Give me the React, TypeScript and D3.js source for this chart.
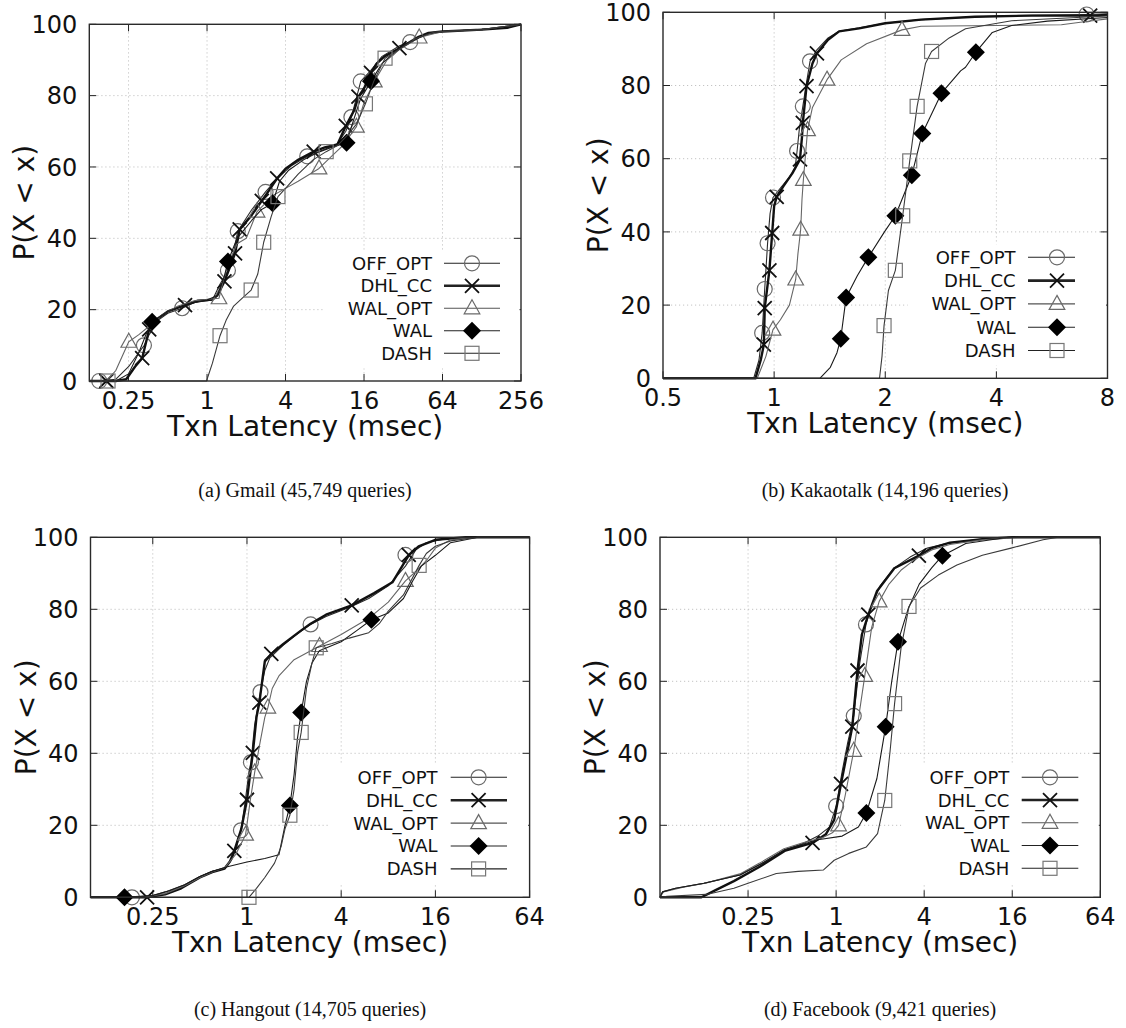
import React from 'react';
import * as d3 from 'd3';

type Pt = [number, number];

const SERIES = ['OFF_OPT', 'DHL_CC', 'WAL_OPT', 'WAL', 'DASH'];
const Y_TICKS = [0, 20, 40, 60, 80, 100];

// (a) Gmail
const gmailCaption = '(a) Gmail (45,749 queries)';
const gmailTicks = [0.25, 1, 4, 16, 64, 256];
const gmailOffOpt: Pt[] = [[0.125, 0], [0.149, 0], [0.2, 0.5], [0.25, 4], [0.3, 8], [0.33, 10], [0.36, 13], [0.42, 17], [0.5, 19], [0.644, 20.4], [0.8, 22], [1.1, 22.7], [1.25, 27], [1.446, 31], [1.6, 36], [1.72, 42], [2.2, 48], [2.81, 53], [3.5, 57], [4.5, 60.5], [5.87, 63], [8, 65], [10, 66.5], [11.6, 70], [12.8, 74], [15.1, 84], [18, 87], [22, 91], [30, 94], [36, 95], [45, 97], [64, 98], [128, 98.6], [200, 99], [256, 100]];
const gmailDhlCc: Pt[] = [[0.125, 0], [0.2, 0], [0.24, 0.5], [0.28, 4], [0.318, 6.4], [0.36, 14.5], [0.4, 17], [0.5, 19.5], [0.678, 21.3], [0.85, 22.5], [1.1, 22.8], [1.2, 24], [1.36, 27.9], [1.5, 32], [1.64, 35.8], [1.78, 42.5], [2.2, 46.5], [2.63, 50.5], [3.0, 53.5], [3.45, 56.8], [4.0, 59.5], [5.0, 62], [6.58, 64.3], [8, 65.5], [10, 66.3], [11.6, 71.5], [13.5, 76], [14.5, 79.7], [16, 82], [18.1, 86.4], [20, 89], [23, 91], [29.9, 93.3], [36, 95], [42, 96.5], [50, 97.6], [64, 98], [128, 98.5], [200, 99], [256, 100]];
const gmailWalOpt: Pt[] = [[0.125, 0], [0.17, 0], [0.2, 3], [0.251, 11], [0.3, 13], [0.35, 15], [0.45, 18.5], [0.6, 21], [0.8, 22.5], [1.235, 23.2], [1.35, 29], [1.5, 34], [1.7, 38.5], [2.0, 40], [2.42, 47.5], [3.2, 52], [4, 54], [5, 56], [7.23, 59.6], [9, 63], [11, 66], [14.0, 71.3], [16, 78], [19.2, 84], [24, 90], [30, 93], [42.4, 96.3], [64, 98], [128, 98.5], [256, 100]];
const gmailWal: Pt[] = [[0.125, 0], [0.2, 0], [0.25, 2], [0.3, 8], [0.34, 13], [0.379, 16.6], [0.5, 19.5], [0.7, 21.5], [1.0, 22.7], [1.2, 24], [1.35, 29], [1.446, 33.5], [1.7, 40], [2.2, 45], [2.6, 48], [3.18, 49.8], [3.6, 56], [4.2, 59], [5.5, 62], [7, 64], [9, 65.5], [11.75, 66.8], [13, 72], [15, 79], [18.1, 84], [22, 89], [28, 92.5], [36, 95], [50, 97.5], [64, 98], [128, 98.5], [256, 100]];
const gmailDash: Pt[] = [[0.125, 0], [0.99, 0], [1.1, 5], [1.258, 12.7], [1.4, 17], [1.6, 21], [1.9, 23.5], [2.18, 25.5], [2.45, 30], [2.72, 38.9], [3.1, 46], [3.5, 51.7], [4, 54], [5, 58], [6.5, 62], [8.2, 64.3], [10, 66], [12, 69], [14, 72], [16.4, 77.7], [19, 84], [23.2, 90.5], [30, 93], [40, 96], [55, 97.8], [64, 98], [128, 98.5], [256, 100]];
const gmailOffOptMarks: Pt[] = [[0.149, 0], [0.328, 10], [0.644, 20.4], [1.446, 31], [1.72, 42], [2.81, 53], [5.87, 63], [12.8, 74], [15.1, 84], [36.1, 95]];
const gmailDhlCcMarks: Pt[] = [[0.169, 0], [0.318, 6.4], [0.36, 14.5], [0.678, 21.3], [1.36, 27.9], [1.64, 35.8], [1.78, 42.5], [2.63, 50.5], [3.45, 56.8], [6.58, 64.3], [11.6, 71.5], [14.5, 79.7], [18.1, 86.4], [29.9, 93.3]];
const gmailWalOptMarks: Pt[] = [[0.251, 11], [1.235, 23.2], [2.42, 47.5], [7.23, 59.6], [14.0, 71.3], [19.2, 84], [42.4, 96.3]];
const gmailWalMarks: Pt[] = [[0.379, 16.6], [1.446, 33.5], [3.18, 49.8], [11.75, 66.8], [18.1, 84]];
const gmailDashMarks: Pt[] = [[0.174, 0], [1.258, 12.7], [2.18, 25.5], [2.72, 38.9], [3.5, 51.7], [8.2, 64.3], [16.4, 77.7], [23.2, 90.5]];

// (b) Kakaotalk
const kakaoCaption = '(b) Kakaotalk (14,196 queries)';
const kakaoTicks = [0.5, 1, 2, 4, 8];
const kakaoOffOpt: Pt[] = [[0.5, 0], [0.88, 0], [0.91, 5], [0.928, 12.4], [0.943, 24.4], [0.96, 36.9], [0.975, 45], [0.993, 49.4], [1.04, 52], [1.1, 55], [1.14, 57.5], [1.154, 62.1], [1.17, 68], [1.196, 74.3], [1.22, 80], [1.251, 86.6], [1.3, 89.5], [1.4, 93], [1.5, 94.8], [1.7, 95.8], [2.0, 97], [2.5, 98], [3.5, 98.8], [5, 99.2], [7.02, 99.4], [8, 99.6]];
const kakaoDhlCc: Pt[] = [[0.5, 0], [0.89, 0], [0.92, 5], [0.938, 9.2], [0.943, 19.2], [0.971, 29.5], [0.988, 39.7], [1.0, 47], [1.016, 49.6], [1.06, 52.5], [1.12, 56], [1.175, 59.8], [1.19, 66], [1.196, 69.8], [1.224, 79.8], [1.27, 86], [1.306, 88.8], [1.4, 92.5], [1.5, 94.8], [1.7, 95.6], [2.0, 97], [2.5, 98], [3.5, 98.8], [5, 99.1], [7.18, 99.1], [8, 99.3]];
const kakaoWalOpt: Pt[] = [[0.5, 0], [0.9, 0], [0.95, 6], [0.993, 13.3], [1.04, 16], [1.1, 20], [1.144, 27], [1.16, 34], [1.18, 40.6], [1.19, 49], [1.2, 54.2], [1.232, 67.8], [1.27, 74], [1.391, 81.6], [1.52, 87], [1.78, 91.4], [2.22, 95.2], [2.5, 96.2], [4, 96.4], [6, 96.6], [7, 97.5], [8, 98.2]];
const kakaoWal: Pt[] = [[0.5, 0], [1.33, 0], [1.42, 3], [1.48, 7], [1.515, 10.8], [1.567, 22.1], [1.68, 28], [1.8, 33.1], [1.99, 40], [2.13, 44.4], [2.36, 55.5], [2.52, 66.9], [2.84, 77.9], [3.2, 84], [3.3, 85], [3.52, 89.1], [3.9, 94.5], [4.4, 96.4], [5.5, 97.6], [8, 98.6]];
const kakaoDash: Pt[] = [[0.5, 0], [1.93, 0], [1.96, 6], [1.985, 14.4], [2.04, 24], [2.13, 29.5], [2.23, 44.4], [2.33, 59.4], [2.44, 74.3], [2.57, 86], [2.67, 89.3], [2.98, 93], [3.3, 95.5], [4.4, 97.7], [8, 99]];
const kakaoOffOptMarks: Pt[] = [[0.928, 12.4], [0.943, 24.4], [0.96, 36.9], [0.993, 49.4], [1.154, 62.1], [1.196, 74.3], [1.251, 86.6], [7.02, 99.4]];
const kakaoDhlCcMarks: Pt[] = [[0.938, 9.2], [0.943, 19.2], [0.971, 29.5], [0.988, 39.7], [1.016, 49.6], [1.175, 59.8], [1.196, 69.8], [1.224, 79.8], [1.306, 88.8], [7.18, 99.1]];
const kakaoWalOptMarks: Pt[] = [[0.993, 13.3], [1.144, 27], [1.18, 40.6], [1.2, 54.2], [1.232, 67.8], [1.391, 81.6], [2.22, 95.2]];
const kakaoWalMarks: Pt[] = [[1.515, 10.8], [1.567, 22.1], [1.8, 33.1], [2.13, 44.4], [2.36, 55.5], [2.52, 66.9], [2.84, 77.9], [3.52, 89.1]];
const kakaoDashMarks: Pt[] = [[1.985, 14.4], [2.13, 29.5], [2.23, 44.4], [2.33, 59.4], [2.44, 74.3], [2.67, 89.3]];

// (c) Hangout
const hangoutCaption = '(c) Hangout (14,705 queries)';
const hangoutTicks = [0.25, 1, 4, 16, 64];
const hangoutOffOpt: Pt[] = [[0.1, 0], [0.184, 0], [0.25, 0.5], [0.3, 1.5], [0.4, 3.5], [0.5, 5.8], [0.6, 7.2], [0.72, 8], [0.8, 10.5], [0.86, 14], [0.915, 18.6], [0.97, 26], [1.03, 35], [1.06, 37.5], [1.12, 48], [1.22, 57], [1.3, 63], [1.4, 66.5], [1.7, 70], [2.0, 72.5], [2.55, 75.8], [3.2, 78], [4.5, 80.5], [6, 83], [8, 86.5], [10.3, 92], [12, 96.5], [14, 98.5], [18, 99.5], [25, 100], [64, 100]];
const hangoutDhlCc: Pt[] = [[0.1, 0], [0.23, 0], [0.3, 0.8], [0.38, 2.5], [0.5, 5.5], [0.6, 7], [0.72, 8], [0.78, 10], [0.83, 12.9], [0.92, 19], [1.0, 27.1], [1.06, 36], [1.09, 40.1], [1.15, 50], [1.2, 54.1], [1.25, 60], [1.3, 65.5], [1.43, 67.6], [1.7, 70.3], [2.2, 74], [2.55, 76], [3.2, 78.5], [4.67, 81.1], [6.5, 84.5], [8.5, 87.5], [10.8, 95], [12.5, 97.5], [16, 99.3], [25, 100], [64, 100]];
const hangoutWalOpt: Pt[] = [[0.1, 0], [0.22, 0], [0.3, 1], [0.4, 3.2], [0.5, 5.5], [0.6, 7], [0.72, 8.2], [0.85, 12], [0.98, 17.4], [1.05, 27], [1.12, 34.7], [1.2, 42], [1.3, 50], [1.36, 52.7], [1.45, 58], [1.6, 61.5], [2.0, 66], [2.91, 69.8], [4, 73], [6, 77.5], [8, 82], [10.3, 87.9], [12, 90.5], [14, 93.5], [16, 97], [20, 99.3], [30, 100], [64, 100]];
const hangoutWal: Pt[] = [[0.1, 0], [0.16, 0], [0.25, 0.5], [0.32, 1.8], [0.4, 3.5], [0.5, 5.8], [0.6, 7.2], [0.75, 8.5], [1.0, 9.8], [1.3, 10.8], [1.6, 11.8], [1.75, 20], [1.88, 25.5], [2.0, 34], [2.1, 44], [2.22, 51.3], [2.4, 60], [2.6, 65], [2.9, 68.5], [4, 71], [5, 74], [6.24, 77.1], [8, 79], [10, 83], [11.5, 88], [13, 92], [16, 95], [20, 98.5], [30, 100], [64, 100]];
const hangoutDash: Pt[] = [[0.1, 0], [1.03, 0], [1.15, 2.5], [1.3, 5.5], [1.5, 9.5], [1.65, 14], [1.75, 19], [1.88, 22.8], [2.0, 30], [2.1, 40], [2.22, 45.8], [2.4, 58], [2.6, 65], [2.77, 69.3], [3.5, 70.5], [4.5, 72], [6, 73.5], [7, 76], [8, 79.5], [10, 84], [12.6, 92.2], [14, 95.5], [16, 97.5], [20, 99], [30, 100], [64, 100]];
const hangoutOffOptMarks: Pt[] = [[0.184, 0], [0.915, 18.6], [1.06, 37.5], [1.22, 57], [2.55, 75.8], [10.3, 95.1]];
const hangoutDhlCcMarks: Pt[] = [[0.23, 0], [0.83, 12.9], [1.0, 27.1], [1.09, 40.1], [1.2, 54.1], [1.43, 67.6], [4.67, 81.1], [10.8, 95.1]];
const hangoutWalOptMarks: Pt[] = [[0.98, 17.4], [1.12, 34.7], [1.36, 52.7], [2.91, 69.8], [10.3, 87.9]];
const hangoutWalMarks: Pt[] = [[0.165, 0], [1.88, 25.5], [2.22, 51.3], [6.24, 77.1]];
const hangoutDashMarks: Pt[] = [[1.03, 0], [1.88, 22.8], [2.22, 45.8], [2.77, 69.3], [12.6, 92.2]];

// (d) Facebook
const fbCaption = '(d) Facebook (9,421 queries)';
const fbTicks = [0.25, 1, 4, 16, 64];
const fbOffOpt: Pt[] = [[0.0625, 0], [0.065, 1.5], [0.08, 2.5], [0.125, 3.9], [0.22, 6.2], [0.31, 9.4], [0.44, 13.1], [0.6, 15], [0.75, 17], [0.9, 19.5], [1.0, 25.3], [1.1, 35], [1.2, 43], [1.32, 50.4], [1.45, 65], [1.6, 75.8], [1.75, 81], [2.0, 86.5], [2.5, 91.5], [3.2, 94.5], [4.2, 97], [6, 98.5], [10, 99.5], [16, 100], [64, 100]];
const fbDhlCc: Pt[] = [[0.0625, 0], [0.12, 0], [0.15, 2], [0.2, 4.5], [0.3, 8.5], [0.45, 13], [0.69, 15.1], [0.85, 17.5], [0.97, 21.5], [1.08, 31.5], [1.29, 47.4], [1.4, 63], [1.5, 73], [1.66, 78.5], [1.9, 85], [2.5, 91.4], [3.68, 94.9], [4.5, 97], [6, 98.5], [10, 99.5], [16, 100], [64, 100]];
const fbWalOpt: Pt[] = [[0.0625, 0], [0.066, 1.5], [0.09, 2.8], [0.13, 4], [0.22, 6.5], [0.3, 9.5], [0.44, 13.5], [0.6, 15.2], [0.8, 16.5], [0.95, 18], [1.04, 20], [1.15, 28], [1.32, 40.7], [1.45, 52], [1.57, 61.5], [1.75, 75], [1.97, 82.2], [2.3, 87], [2.8, 91], [3.5, 94], [4.5, 96.5], [6, 98], [10, 99.3], [18, 100], [64, 100]];
const fbWal: Pt[] = [[0.0625, 0], [0.065, 1.5], [0.08, 2.5], [0.125, 3.9], [0.22, 6.2], [0.31, 9.4], [0.44, 13.1], [0.6, 14.8], [0.75, 16], [1.1, 17], [1.42, 19.5], [1.61, 23.4], [1.9, 33], [2.18, 47.4], [2.4, 60], [2.65, 71], [3.1, 80], [3.7, 87], [4.5, 91.5], [5.33, 94.9], [7.7, 98.3], [15, 100], [64, 100]];
const fbDash: Pt[] = [[0.0625, 0], [0.07, 0.3], [0.13, 0.8], [0.2, 2.5], [0.25, 3.9], [0.39, 6.6], [0.55, 7.2], [0.82, 7.6], [0.97, 10.3], [1.22, 12.2], [1.61, 14], [1.92, 17.7], [2.15, 26.9], [2.34, 40.7], [2.51, 53.8], [2.78, 69.3], [3.15, 80.8], [3.78, 85.9], [5, 89.5], [6.7, 92.3], [10, 95], [15.7, 97], [26, 99.3], [33, 100], [64, 100]];
const fbOffOptMarks: Pt[] = [[1.0, 25.3], [1.32, 50.4], [1.6, 75.8]];
const fbDhlCcMarks: Pt[] = [[0.69, 15.1], [1.08, 31.5], [1.29, 47.4], [1.4, 63], [1.66, 78.5], [3.68, 94.9]];
const fbWalOptMarks: Pt[] = [[1.04, 20], [1.32, 40.7], [1.57, 61.5], [1.97, 82.2]];
const fbWalMarks: Pt[] = [[1.61, 23.4], [2.18, 47.4], [2.65, 71], [5.33, 94.9]];
const fbDashMarks: Pt[] = [[2.15, 26.9], [2.51, 53.8], [3.15, 80.8]];

// look of each series, gnuplot style
const STYLE: Record<string, { stroke: string; width: number; marker: string; mcolor: string }> = {
  OFF_OPT: { stroke: '#2a2a2a', width: 1.1, marker: 'circle', mcolor: '#6a6a6a' },
  DHL_CC: { stroke: '#111', width: 2.4, marker: 'x', mcolor: '#111' },
  WAL_OPT: { stroke: '#666', width: 1.1, marker: 'triangle', mcolor: '#6a6a6a' },
  WAL: { stroke: '#1a1a1a', width: 1.1, marker: 'diamond', mcolor: '#000' },
  DASH: { stroke: '#3a3a3a', width: 1.1, marker: 'square', mcolor: '#777' },
};

const panels = [
  {
    caption: gmailCaption, ticks: gmailTicks, base: 4, domain: [0.125, 256],
    left: 89.3, right: 521, top: 24.3, bottom: 381,
    lines: [gmailOffOpt, gmailDhlCc, gmailWalOpt, gmailWal, gmailDash],
    marks: [gmailOffOptMarks, gmailDhlCcMarks, gmailWalOptMarks, gmailWalMarks, gmailDashMarks],
    legend: { labelRight: 432, x1: 444, x2: 500, mx: 472, y0: 263.3, step: 22.5 },
    capX: 305, capY: 497,
  },
  {
    caption: kakaoCaption, ticks: kakaoTicks, base: 2, domain: [0.5, 8],
    left: 663, right: 1107.5, top: 12.3, bottom: 378.3,
    lines: [kakaoOffOpt, kakaoDhlCc, kakaoWalOpt, kakaoWal, kakaoDash],
    marks: [kakaoOffOptMarks, kakaoDhlCcMarks, kakaoWalOptMarks, kakaoWalMarks, kakaoDashMarks],
    legend: { labelRight: 1015.6, x1: 1028, x2: 1075, mx: 1057, y0: 257.3, step: 23.3 },
    capX: 885, capY: 497,
  },
  {
    caption: hangoutCaption, ticks: hangoutTicks, base: 4, domain: [0.1, 64],
    left: 90.5, right: 529.6, top: 537.3, bottom: 897.3,
    lines: [hangoutOffOpt, hangoutDhlCc, hangoutWalOpt, hangoutWal, hangoutDash],
    marks: [hangoutOffOptMarks, hangoutDhlCcMarks, hangoutWalOptMarks, hangoutWalMarks, hangoutDashMarks],
    legend: { labelRight: 437.5, x1: 450.7, x2: 507, mx: 478.6, y0: 777.3, step: 22.9 },
    capX: 310, capY: 1016,
  },
  {
    caption: fbCaption, ticks: fbTicks, base: 4, domain: [0.0625, 64],
    left: 660, right: 1100.3, top: 537.3, bottom: 897.3,
    lines: [fbOffOpt, fbDhlCc, fbWalOpt, fbWal, fbDash],
    marks: [fbOffOptMarks, fbDhlCcMarks, fbWalOptMarks, fbWalMarks, fbDashMarks],
    legend: { labelRight: 1009.3, x1: 1021.7, x2: 1078.3, mx: 1050, y0: 777.3, step: 22.75 },
    capX: 880, capY: 1016,
  },
];

const FONT = 'DejaVu Sans, Verdana, sans-serif';

function Marker({ kind, x, y, color }: { kind: string; x: number; y: number; color: string }) {
  if (kind === 'circle') {
    return <circle cx={x} cy={y} r={7.5} fill="none" stroke={color} strokeWidth={1.2} />;
  }
  if (kind === 'x') {
    const s = 7;
    return (
      <path d={`M${x - s},${y - s}L${x + s},${y + s}M${x - s},${y + s}L${x + s},${y - s}`}
        stroke={color} strokeWidth={1.8} fill="none" />
    );
  }
  if (kind === 'triangle') {
    return (
      <path d={`M${x},${y - 8.5}L${x + 7.8},${y + 5.5}L${x - 7.8},${y + 5.5}Z`}
        fill="none" stroke={color} strokeWidth={1.2} />
    );
  }
  if (kind === 'diamond') {
    const s = 9;
    return <path d={`M${x},${y - s}L${x + s},${y}L${x},${y + s}L${x - s},${y}Z`} fill={color} />;
  }
  return <rect x={x - 7} y={y - 7} width={14} height={14} fill="none" stroke={color} strokeWidth={1.2} />;
}

function Panel({ p, idx }: { p: (typeof panels)[number]; idx: number }) {
  const x = d3.scaleLog().base(p.base).domain(p.domain).range([p.left, p.right]);
  const y = d3.scaleLinear().domain([0, 100]).range([p.bottom, p.top]);
  const line = d3.line<Pt>().x(d => x(d[0])).y(d => y(d[1]));
  const clipId = `clip-${idx}`;
  const tickLen = 7;
  const lg = p.legend;
  const cy = (p.top + p.bottom) / 2;
  const cx = (p.left + p.right) / 2;

  return (
    <g>
      <defs>
        <clipPath id={clipId}>
          <rect x={p.left - 12} y={p.top - 12} width={p.right - p.left + 24} height={p.bottom - p.top + 24} />
        </clipPath>
      </defs>

      {/* grid */}
      {p.ticks.filter(t => x(t) > p.left + 1 && x(t) < p.right - 1).map(t => (
        <line key={`gx${t}`} x1={x(t)} x2={x(t)} y1={p.top} y2={p.bottom}
          stroke="#c4c4c4" strokeWidth={1} strokeDasharray="1.2,2.8" />
      ))}
      {Y_TICKS.filter(t => t > 0 && t < 100).map(t => (
        <line key={`gy${t}`} x1={p.left} x2={p.right} y1={y(t)} y2={y(t)}
          stroke="#c4c4c4" strokeWidth={1} strokeDasharray="1.2,2.8" />
      ))}

      {/* ticks on all four sides */}
      {p.ticks.map(t => (
        <g key={`tx${t}`} stroke="#222" strokeWidth={1}>
          <line x1={x(t)} x2={x(t)} y1={p.bottom} y2={p.bottom - tickLen} />
          <line x1={x(t)} x2={x(t)} y1={p.top} y2={p.top + tickLen} />
        </g>
      ))}
      {Y_TICKS.map(t => (
        <g key={`ty${t}`} stroke="#222" strokeWidth={1}>
          <line x1={p.left} x2={p.left + tickLen} y1={y(t)} y2={y(t)} />
          <line x1={p.right} x2={p.right - tickLen} y1={y(t)} y2={y(t)} />
        </g>
      ))}

      {/* series */}
      <g clipPath={`url(#${clipId})`}>
        {SERIES.map((s, i) => {
          const st = STYLE[s];
          return (
            <g key={s}>
              <path d={line(p.lines[i]) || ''} fill="none" stroke={st.stroke} strokeWidth={st.width}
                strokeLinejoin="round" />
              {p.marks[i].map((m, j) => (
                <Marker key={j} kind={st.marker} x={x(m[0])} y={y(m[1])} color={st.mcolor} />
              ))}
            </g>
          );
        })}
      </g>

      {/* legend, opaque key box */}
      <rect x={lg.labelRight - 108} y={lg.y0 - 13} width={p.right - 1.5 - (lg.labelRight - 108)}
        height={lg.step * 4 + 28} fill="white" />
      {SERIES.map((s, i) => {
        const st = STYLE[s];
        const ly = lg.y0 + i * lg.step;
        return (
          <g key={`lg${s}`}>
            <text x={lg.labelRight} y={ly} dy="0.36em" textAnchor="end" fontFamily={FONT} fontSize={18}
              fill="#111">{s}</text>
            <line x1={lg.x1} x2={lg.x2} y1={ly} y2={ly} stroke={s === 'WAL_OPT' ? '#555' : '#222'}
              strokeWidth={s === 'DHL_CC' ? 2.6 : 1.1} />
            <Marker kind={st.marker} x={lg.mx} y={ly} color={st.mcolor} />
          </g>
        );
      })}

      {/* frame */}
      <rect x={p.left} y={p.top} width={p.right - p.left} height={p.bottom - p.top}
        fill="none" stroke="#2a2a2a" strokeWidth={1.4} />

      {/* tick labels */}
      {p.ticks.map(t => (
        <text key={`lx${t}`} x={x(t)} y={p.bottom + 28} textAnchor="middle" fontFamily={FONT}
          fontSize={24} fill="#111">{String(t)}</text>
      ))}
      {Y_TICKS.map(t => (
        <text key={`ly${t}`} x={p.left - 12} y={y(t)} dy="0.36em" textAnchor="end" fontFamily={FONT}
          fontSize={24} fill="#111">{t}</text>
      ))}

      {/* axis titles */}
      <text x={cx} y={p.bottom + 55} textAnchor="middle" fontFamily={FONT} fontSize={28} fill="#111">
        Txn Latency (msec)
      </text>
      <text transform={`translate(${p.left - 55},${cy}) rotate(-90)`} textAnchor="middle" fontFamily={FONT}
        fontSize={28} fill="#111">P(X &lt; x)</text>

      {/* caption */}
      <text x={p.capX} y={p.capY} textAnchor="middle" fontFamily="Liberation Serif, Times New Roman, serif"
        fontSize={20} fill="#111">{p.caption}</text>
    </g>
  );
}

export default function App() {
  return (
    <svg width={1126} height={1028} viewBox="0 0 1126 1028"
      style={{ position: 'absolute', left: 0, top: 0, display: 'block', background: 'white' }}>
      <rect x={0} y={0} width={1126} height={1028} fill="white" />
      {panels.map((p, i) => (
        <Panel key={i} p={p} idx={i} />
      ))}
    </svg>
  );
}
